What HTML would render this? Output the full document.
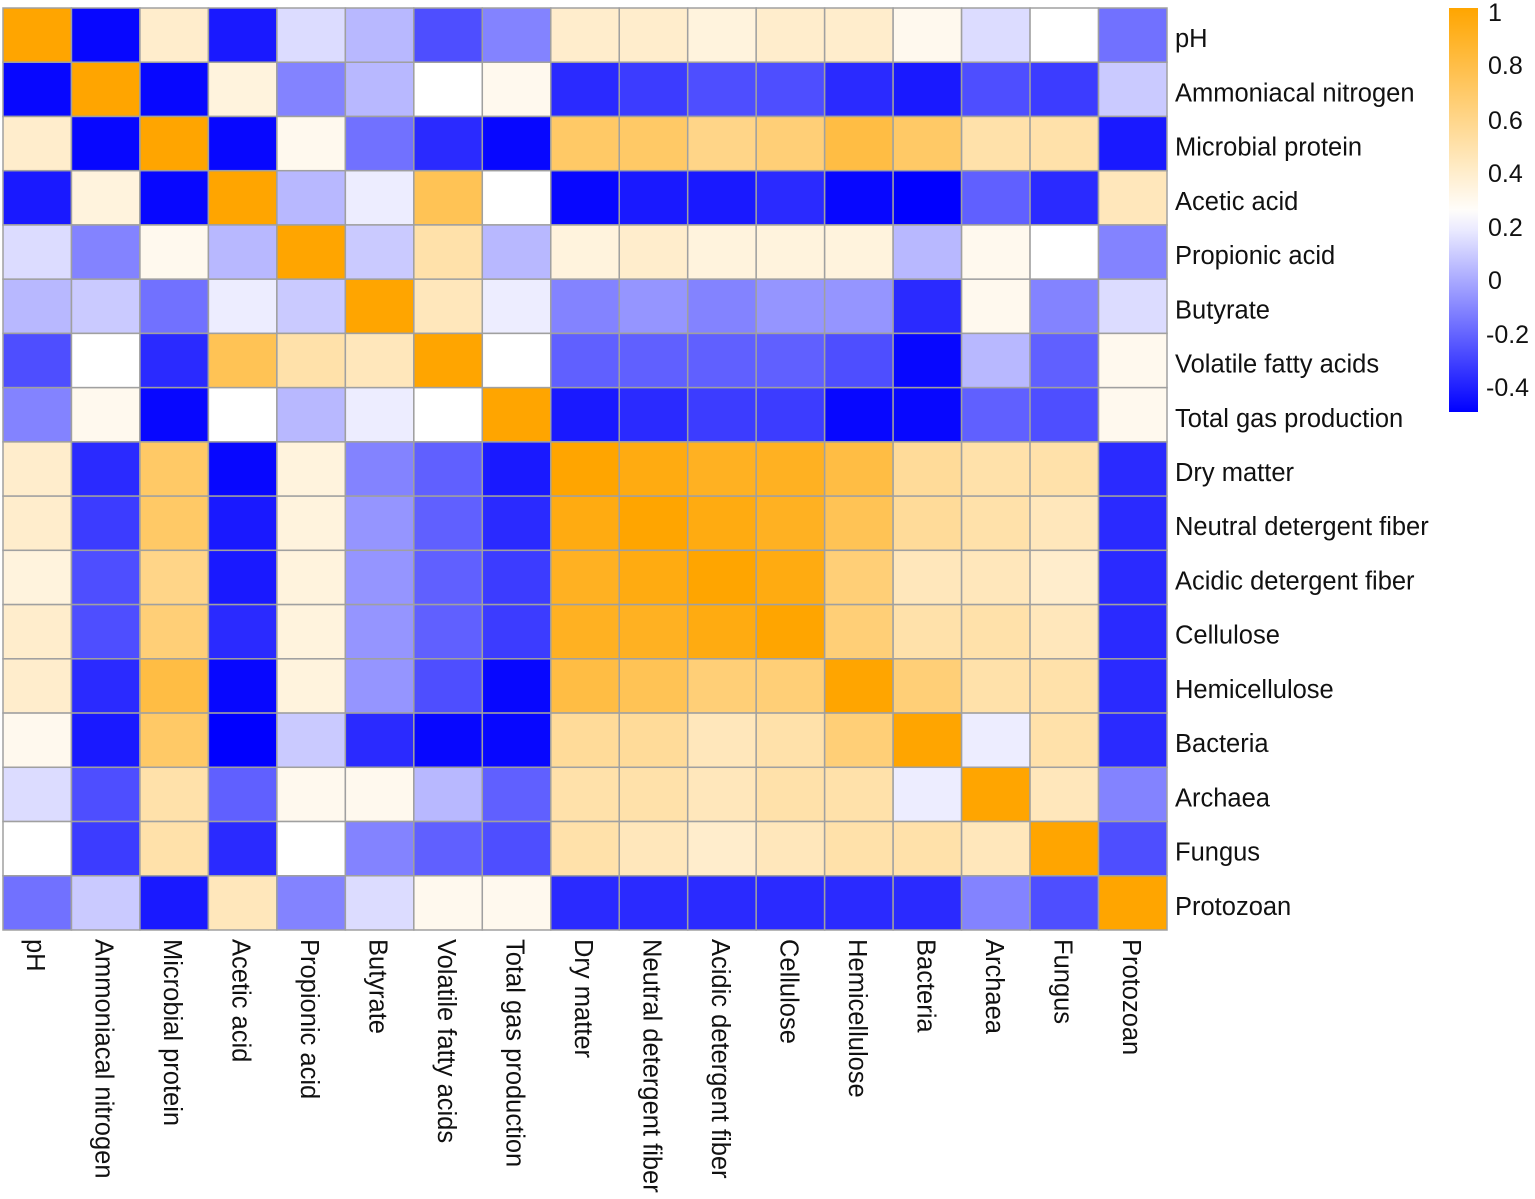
<!DOCTYPE html>
<html><head><meta charset="utf-8">
<style>
html,body{margin:0;padding:0;background:#fff;}
svg{display:block;font-family:"Liberation Sans",Arial,sans-serif;}
</style></head>
<body>
<svg id="s" width="1535" height="1199" xmlns="http://www.w3.org/2000/svg"></svg>
<script>
const labels=["pH","Ammoniacal nitrogen","Microbial protein","Acetic acid","Propionic acid","Butyrate","Volatile fatty acids","Total gas production","Dry matter","Neutral detergent fiber","Acidic detergent fiber","Cellulose","Hemicellulose","Bacteria","Archaea","Fungus","Protozoan"];
const M=[
[1,-0.45,0.4,-0.4,0.15,0.05,-0.25,-0.1,0.4,0.4,0.35,0.4,0.4,0.3,0.15,0.25,-0.15],
[-0.45,1,-0.45,0.35,-0.1,0.05,0.25,0.3,-0.35,-0.3,-0.25,-0.25,-0.35,-0.4,-0.25,-0.3,0.1],
[0.4,-0.45,1,-0.45,0.3,-0.15,-0.35,-0.45,0.7,0.7,0.6,0.65,0.8,0.7,0.5,0.5,-0.4],
[-0.4,0.35,-0.45,1,0.05,0.2,0.75,0.25,-0.45,-0.4,-0.4,-0.35,-0.45,-0.5,-0.2,-0.35,0.45],
[0.15,-0.1,0.3,0.05,1,0.1,0.5,0.05,0.35,0.4,0.35,0.35,0.35,0.05,0.3,0.25,-0.1],
[0.05,0.1,-0.15,0.2,0.1,1,0.45,0.2,-0.1,-0.05,-0.1,-0.05,-0.05,-0.35,0.3,-0.1,0.15],
[-0.25,0.25,-0.35,0.75,0.5,0.45,1,0.25,-0.2,-0.2,-0.2,-0.2,-0.25,-0.45,0.05,-0.2,0.3],
[-0.1,0.3,-0.45,0.25,0.05,0.2,0.25,1,-0.4,-0.35,-0.3,-0.3,-0.45,-0.45,-0.2,-0.25,0.3],
[0.4,-0.35,0.7,-0.45,0.35,-0.1,-0.2,-0.4,1,0.95,0.9,0.9,0.8,0.55,0.5,0.5,-0.35],
[0.4,-0.3,0.7,-0.4,0.35,-0.05,-0.2,-0.35,0.95,1,0.95,0.9,0.75,0.55,0.5,0.45,-0.35],
[0.35,-0.25,0.6,-0.4,0.35,-0.05,-0.2,-0.3,0.9,0.95,1,0.95,0.65,0.45,0.45,0.4,-0.35],
[0.4,-0.25,0.65,-0.35,0.35,-0.05,-0.2,-0.3,0.9,0.9,0.95,1,0.65,0.5,0.5,0.45,-0.35],
[0.4,-0.35,0.8,-0.45,0.35,-0.05,-0.25,-0.45,0.8,0.75,0.65,0.65,1,0.65,0.5,0.5,-0.35],
[0.3,-0.4,0.7,-0.5,0.1,-0.35,-0.45,-0.45,0.55,0.55,0.45,0.5,0.65,1,0.2,0.5,-0.35],
[0.15,-0.25,0.5,-0.2,0.3,0.3,0.05,-0.2,0.5,0.5,0.45,0.5,0.5,0.2,1,0.45,-0.1],
[0.25,-0.3,0.5,-0.35,0.25,-0.1,-0.2,-0.25,0.5,0.45,0.4,0.45,0.5,0.5,0.45,1,-0.25],
[-0.15,0.1,-0.4,0.45,-0.1,0.15,0.3,0.3,-0.35,-0.35,-0.35,-0.35,-0.35,-0.35,-0.1,-0.25,1]];
function col(v){
  const W=0.25,lo=-0.47;
  let r,g,b;
  if(v>=W){let t=Math.min(1,(v-W)/(1-W));r=255;g=Math.round(255-(255-165)*t);b=Math.round(255*(1-t));}
  else{let t=Math.min(1,(W-v)/(W-lo));r=Math.round(255*(1-t));g=r;b=255;}
  return `rgb(${r},${g},${b})`;
}
const x0=3,y0=8,cw=(1167-3)/17,ch=(930-8)/17;
let h='';
for(let i=0;i<17;i++)for(let j=0;j<17;j++){
  h+=`<rect x="${x0+j*cw}" y="${y0+i*ch}" width="${cw}" height="${ch}" fill="${col(M[i][j])}" stroke="#a0a0a0" stroke-width="1.5"/>`;
}
for(let i=0;i<17;i++){
  h+=`<text x="1175" y="${y0+i*ch+ch/2+12}" font-size="25.5" fill="#111">${labels[i]}</text>`;
  const cx=x0+i*cw+cw/2-10, ty=939;
  h+=`<text transform="translate(${cx},${ty}) rotate(90)" x="0" y="0" font-size="25.5" fill="#111">${labels[i]}</text>`;
}
h+='<defs><linearGradient id="g" x1="0" y1="0" x2="0" y2="1">';
for(let k=0;k<=20;k++){const v=1-(1.47)*k/20;h+=`<stop offset="${k/20}" stop-color="${col(v)}"/>`;}
h+='</linearGradient></defs>';
h+='<rect x="1449" y="8" width="29" height="404" fill="url(#g)"/>';
const ticks=[["1",12],["0.8",65],["0.6",120],["0.4",173],["0.2",227],["0",280],["-0.2",334],["-0.4",387]];
for(const [t,y] of ticks){h+=`<text x="${t.startsWith('-')?1486:1488}" y="${y+9}" font-size="25" fill="#111">${t}</text>`;}
document.getElementById('s').innerHTML=h;
</script>
</body></html>
